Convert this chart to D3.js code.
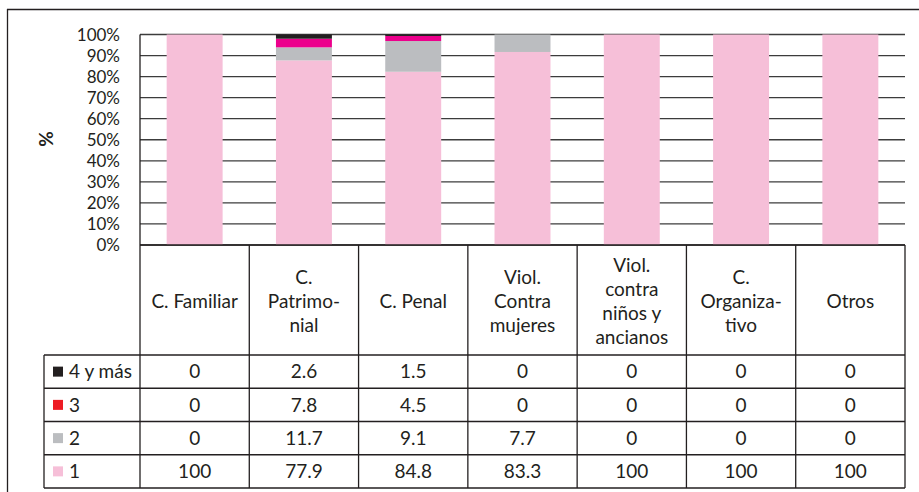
<!DOCTYPE html>
<html>
<head>
<meta charset="utf-8">
<script src="https://cdn.jsdelivr.net/npm/d3@7"></script>
<style>
  html, body { margin: 0; padding: 0; background: #fff; }
  svg text { font-family: Lato, "Open Sans", sans-serif; fill: #231f20; }
</style>
</head>
<body>
<svg id="chart" width="919" height="492"></svg>
<script>
// categories (header lines as printed in the table)
const categories = [
  ['C. Familiar'],
  ['C.', 'Patrimo-', 'nial'],
  ['C. Penal'],
  ['Viol.', 'Contra', 'mujeres'],
  ['Viol.', 'contra', 'niños y', 'ancianos'],
  ['C.', 'Organiza-', 'tivo'],
  ['Otros']
];
const seriesNames = ['4 y más', '3', '2', '1'];

// values printed in the data table
const table4 = [0, 2.6, 1.5, 0, 0, 0, 0];
const table3 = [0, 7.8, 4.5, 0, 0, 0, 0];
const table2 = [0, 11.7, 9.1, 7.7, 0, 0, 0];
const table1 = [100, 77.9, 84.8, 83.3, 100, 100, 100];

// bar segments as drawn (they don't match the table exactly)
const bar1 = [100, 87.7, 82.3, 91.7, 100, 100, 100];
const bar2 = [0, 6.2, 14.6, 8.3, 0, 0, 0];
const bar3 = [0, 4.1, 2.4, 0, 0, 0, 0];
const bar4 = [0, 2.0, 0.7, 0, 0, 0, 0];

const yTicks = [0, 10, 20, 30, 40, 50, 60, 70, 80, 90, 100];

(function() {
  'use strict';

  const svg = d3.select('#chart'),
        ink = '#231f20',
        fontSize = 19,
        barColor = { '1': '#f6bfd8', '2': '#bbbdc0', '3': '#ec008c', '4 y más': '#231f20' },
        keyColor = { '1': '#f6bfd8', '2': '#bbbdc0', '3': '#ed1c24', '4 y más': '#231f20' },
        tableRows = { '4 y más': table4, '3': table3, '2': table2, '1': table1 },
        barRows = { '1': bar1, '2': bar2, '3': bar3, '4 y más': bar4 },
        left = 140, right = 905,
        legendLeft = 44,
        headerTop = 245, headerBottom = 355, tableBottom = 488;

  const x = d3.scaleBand()
    .domain(d3.range(categories.length))
    .range([left, right])
    .padding(0);

  const y = d3.scaleLinear()
    .domain([0, 100])
    .range([headerTop, 34.5]);

  const row = d3.scaleBand()
    .domain(seriesNames)
    .range([headerBottom, tableBottom]);

  // outer frame (cropped on right and bottom)
  svg.append('line').attr('x1', 7).attr('x2', 919).attr('y1', 9.5).attr('y2', 9.5)
    .attr('stroke', ink).attr('stroke-width', 1.3);
  svg.append('line').attr('x1', 7.5).attr('x2', 7.5).attr('y1', 9).attr('y2', 492)
    .attr('stroke', ink).attr('stroke-width', 1.3);

  // gridlines
  svg.append('g')
    .selectAll('line')
    .data(yTicks)
    .join('line')
      .attr('x1', left).attr('x2', right)
      .attr('y1', d => y(d)).attr('y2', d => y(d))
      .attr('stroke', '#3c3c3c')
      .attr('stroke-width', 1.3);

  // stacked bars
  const stackKeys = ['1', '2', '3', '4 y más'],
        stackData = categories.map((c, i) => {
          let o = { i: i };
          stackKeys.forEach(k => { o[k] = barRows[k][i]; });
          return o;
        }),
        series = d3.stack().keys(stackKeys)(stackData),
        barW = x.bandwidth() * 0.512;

  svg.append('g')
    .selectAll('g')
    .data(series)
    .join('g')
      .attr('fill', s => barColor[s.key])
    .selectAll('rect')
    .data(s => s)
    .join('rect')
      .attr('x', d => x(d.data.i) + (x.bandwidth() - barW) / 2)
      .attr('width', barW)
      .attr('y', d => y(d[1]))
      .attr('height', d => y(d[0]) - y(d[1]));

  // y axis tick labels
  svg.append('g')
    .selectAll('text')
    .data(yTicks)
    .join('text')
      .attr('x', 120)
      .attr('y', d => y(d))
      .attr('dy', '0.36em')
      .attr('text-anchor', 'end')
      .attr('font-size', 17)
      .text(d => d + '%');

  svg.append('text')
    .attr('transform', 'translate(46,139) rotate(-90)')
    .attr('text-anchor', 'middle')
    .attr('dy', '0.36em')
    .attr('font-size', 19)
    .attr('font-weight', 'bold')
    .text('%');

  // table grid
  const grid = svg.append('g').attr('stroke', ink).attr('stroke-width', 1.3);
  grid.append('line').attr('x1', left).attr('x2', left).attr('y1', y(100)).attr('y2', tableBottom);
  d3.range(1, categories.length + 1).forEach(i => {
    let xx = i < categories.length ? x(i) : right;
    grid.append('line').attr('x1', xx).attr('x2', xx).attr('y1', headerTop).attr('y2', tableBottom);
  });
  grid.append('line').attr('x1', left).attr('x2', right).attr('y1', headerTop).attr('y2', headerTop);
  grid.append('line').attr('x1', legendLeft).attr('x2', legendLeft).attr('y1', headerBottom).attr('y2', tableBottom);
  seriesNames.forEach(s => {
    grid.append('line').attr('x1', legendLeft).attr('x2', right)
      .attr('y1', row(s)).attr('y2', row(s));
  });
  grid.append('line').attr('x1', legendLeft).attr('x2', right).attr('y1', tableBottom).attr('y2', tableBottom);

  // header cells
  const lineH = 24,
        headerMid = (headerTop + headerBottom) / 2 + 1;
  svg.append('g')
    .selectAll('text')
    .data(categories)
    .join('text')
      .attr('x', (d, i) => x(i) + x.bandwidth() / 2)
      .attr('y', d => headerMid - (d.length - 1) * lineH / 2)
      .attr('text-anchor', 'middle')
      .attr('font-size', fontSize)
    .selectAll('tspan')
    .data(d => d)
    .join('tspan')
      .attr('x', function() { return this.parentNode.getAttribute('x'); })
      .attr('dy', (d, j) => j === 0 ? '0.36em' : lineH)
      .text(d => d);

  // legend cells
  const legend = svg.append('g')
    .selectAll('g')
    .data(seriesNames)
    .join('g')
      .attr('transform', s => `translate(0,${row(s) + row.bandwidth() / 2})`);
  legend.append('rect')
    .attr('x', 53).attr('y', -5).attr('width', 10).attr('height', 10)
    .attr('fill', s => keyColor[s]);
  legend.append('text')
    .attr('x', 69).attr('dy', '0.36em')
    .attr('font-size', fontSize)
    .text(s => s);

  // value cells
  seriesNames.forEach(s => {
    svg.append('g')
      .selectAll('text')
      .data(tableRows[s])
      .join('text')
        .attr('x', (d, i) => x(i) + x.bandwidth() / 2)
        .attr('y', row(s) + row.bandwidth() / 2)
        .attr('dy', '0.36em')
        .attr('text-anchor', 'middle')
        .attr('font-size', fontSize)
        .text(d => d);
  });
})();
</script>
</body>
</html>
